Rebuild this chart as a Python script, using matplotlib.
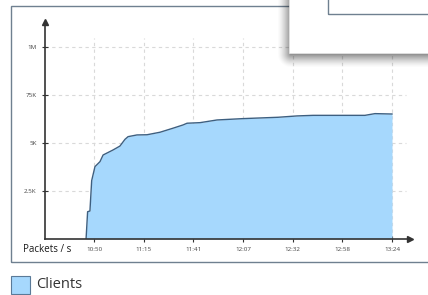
import matplotlib.pyplot as plt
from matplotlib.patches import Rectangle
import numpy as np

# minutes after 10:50 and packets/s values
minutes = [-4.1, -3.3, -2.1, -1.2, 0.5, 3.1, 4.7, 9.8, 13.4, 16.0, 17.6, 22.2, 27.4,
           34.1, 40.8, 46.0, 48.1, 54.8, 63.6, 77.0, 95.1, 104.9, 113.2, 140.0, 145.2, 154.0]
packets = [0, 1420, 1460, 3040, 3770, 4030, 4375, 4635, 4840, 5190, 5330, 5420, 5430,
           5560, 5770, 5940, 6030, 6060, 6200, 6270, 6340, 6410, 6440, 6440, 6530, 6510]

tick_pos = [0, 25.67, 51.33, 77.0, 102.67, 128.33, 154.0]
tick_labels = ["10:50", "11:15", "11:41", "12:07", "12:32", "12:58", "13:24"]
ytick_pos = [2500, 5000, 7500, 10000]
ytick_labels = ["2.5K", "5K", "75K", "1M"]

W, H = 428, 295
fill_col = "#a6d8fd"
line_col = "#3d5f80"
axis_col = "#333333"

plt.rcParams['font.family'] = ['Open Sans', 'DejaVu Sans']

fig = plt.figure(figsize=(W / 100, H / 100), dpi=100)

def fx(x):
    return x / W

def fy(y):
    return 1 - y / H

# outer panel border
fig.patches.append(Rectangle((fx(11), fy(262)), fx(440) - fx(11), fy(6) - fy(262),
                             transform=fig.transFigure, fill=False, ec="#6f8090", lw=1))

ax = fig.add_axes([fx(45), fy(239), fx(410) - fx(45), fy(22) - fy(239)])
ax.set_xlim((45 - 94) * 154 / 298, (410 - 94) * 154 / 298)
ax.set_ylim(0, (239 - 22) / 48 * 2500)
ax.patch.set_alpha(0)

grid_top = (239 - 38) / 48 * 2500
grid_right = (406 - 94) * 154 / 298
ax.vlines(tick_pos, 0, grid_top, colors="#d9d9d9", linestyles=(0, (3, 3)), lw=0.8, zorder=1)
ax.hlines(ytick_pos, ax.get_xlim()[0], grid_right, colors="#d9d9d9", linestyles=(0, (3, 3)), lw=0.8, zorder=1)

ax.fill_between(minutes + [minutes[-1]], packets + [0], color=fill_col, lw=0, zorder=2)
ax.plot(minutes, packets, color=line_col, lw=1, zorder=3)

for s in ["top", "right"]:
    ax.spines[s].set_visible(False)
for s in ["left", "bottom"]:
    ax.spines[s].set_color(axis_col)
    ax.spines[s].set_linewidth(1.2)
    ax.spines[s].set_zorder(4)
ax.plot([0], [1], marker="^", color=axis_col, ms=5, transform=ax.transAxes, clip_on=False)
ax.plot([1], [0], marker=">", color=axis_col, ms=5, transform=ax.transAxes, clip_on=False)

ax.set_xticks(tick_pos)
ax.set_xticklabels(tick_labels)
ax.set_yticks(ytick_pos)
ax.set_yticklabels(ytick_labels)
ax.tick_params(direction="inout", length=4, width=0.8, color=axis_col, labelsize=4.5,
               labelcolor="#444444", pad=4)

fig.text(fx(23), fy(249), "Packets / s", fontsize=7, color="#1a1a1a", va="center", ha="left")

# legend
fig.patches.append(Rectangle((fx(11), fy(294)), fx(30) - fx(11), fy(276) - fy(294),
                             transform=fig.transFigure, fc=fill_col, ec="#5a7a98", lw=0.8))
fig.text(fx(36), fy(285), "Clients", fontsize=10.5, color="#333333", va="center", ha="left")

# popup shadow at top right
sx0, sy1 = 270, 80
xs = np.arange(sx0, W) + 0.5
ys = np.arange(0, sy1) + 0.5
X, Y = np.meshgrid(xs, ys)
dx = np.clip(291 - X, 0, None)
dy = np.clip(Y - 54, 0, None)
d = np.hypot(dx, dy)
alpha = 0.45 * np.clip(1 - d / 14, 0, 1) ** 1.5
img = np.zeros((sy1, W - sx0, 4))
img[..., 3] = alpha
sax = fig.add_axes([fx(sx0), fy(sy1), fx(W) - fx(sx0), fy(0) - fy(sy1)], zorder=2)
sax.imshow(img, aspect="auto", interpolation="bilinear")
sax.axis("off")

fig.patches.append(Rectangle((fx(289), fy(53)), fx(440) - fx(289), fy(-2) - fy(53),
                             transform=fig.transFigure, fc="white", ec="#e6e6e6", lw=0.5, zorder=3))
fig.patches.append(Rectangle((fx(328), fy(14)), fx(440) - fx(328), fy(-2) - fy(14),
                             transform=fig.transFigure, fill=False, ec="#6f8090", lw=1, zorder=4))

fig.savefig("out.png", dpi=100)
